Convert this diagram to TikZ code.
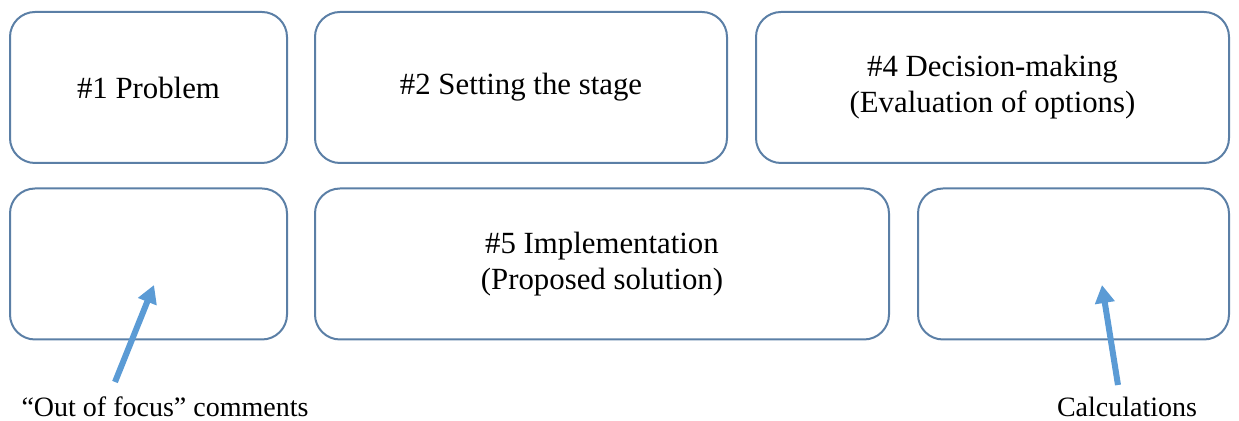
\documentclass[tikz,border=0pt]{standalone}
\usepackage{fontspec}
\setmainfont{Liberation Serif}
\usepackage{xcolor}
\usetikzlibrary{arrows.meta}
\definecolor{boxline}{HTML}{5B7FA6}
\definecolor{arrowblue}{HTML}{5B9BD5}
\tikzset{
  panel/.style={draw=boxline, line width=1pt, rounded corners=12.5pt,
    minimum height=75.5pt, align=center, inner sep=0pt,
    font=\fontsize{15.4}{18}\selectfont},
  pointer/.style={draw=arrowblue, line width=3pt,
    -{Triangle[length=9pt,width=9.5pt]}},
  note/.style={font=\fontsize{14}{17}\selectfont, inner sep=0pt}
}

\begin{document}
\begin{tikzpicture}[x=0.5pt,y=-0.5pt]
\useasboundingbox (0,0) rectangle (1239,421);

% top row
\node[panel, minimum width=138.5pt] (problem) at (148.5,87.5) {\#1 Problem};
\node[panel, minimum width=206pt] (stage) at (521,87.5) {\#2 Setting the stage};
\node[panel, minimum width=236.5pt] (decision) at (992.5,87.5) {\#4 Decision-making\\(Evaluation of options)};

% bottom row
\node[panel, minimum width=138.5pt] (outfocus) at (148.5,264) {};
\node[panel, minimum width=287pt] (implement) at (602,264) {\#5 Implementation\\(Proposed solution)};
\node[panel, minimum width=155.5pt] (calcbox) at (1073.5,264) {};

% comments below
\node[note] (outlabel) at (165,407) {``Out of focus'' comments};
\node[note] (calclabel) at (1127,407) {Calculations};

\coordinate (outtail) at (115,382);
\coordinate (outtip) at (154,285);
\coordinate (calctail) at (1118,385);
\coordinate (calctip) at (1102,285);

\draw[pointer] (outtail) -- (outtip);
\draw[pointer] (calctail) -- (calctip);
\end{tikzpicture}
\end{document}
